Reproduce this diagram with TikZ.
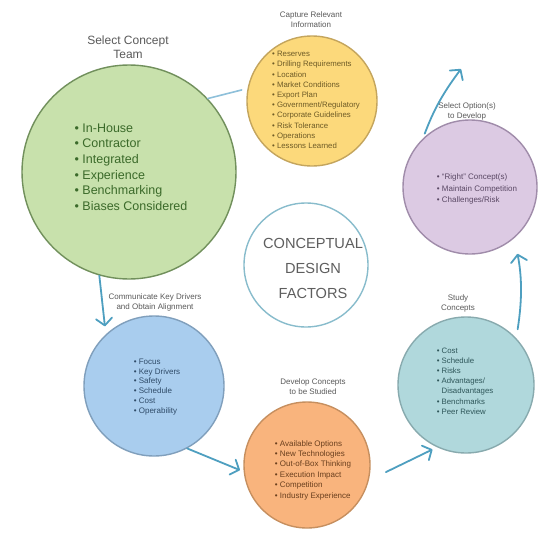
\documentclass[tikz,border=0pt]{standalone}
\usepackage{fontspec}
\setmainfont{Liberation Sans}
\usetikzlibrary{arrows.meta,calc}

\definecolor{greenfill}{HTML}{C8E1AC}
\definecolor{greenline}{HTML}{71905C}
\definecolor{greentext}{HTML}{3B6A2A}
\definecolor{yellowfill}{HTML}{FCD97B}
\definecolor{yellowline}{HTML}{C4A55D}
\definecolor{yellowtext}{HTML}{6E5B26}
\definecolor{purplefill}{HTML}{DCCAE3}
\definecolor{purpleline}{HTML}{A08CAA}
\definecolor{purpletext}{HTML}{5A4864}
\definecolor{bluefill}{HTML}{A9CDEE}
\definecolor{blueline}{HTML}{809FBC}
\definecolor{bluetext}{HTML}{2F4B68}
\definecolor{orangefill}{HTML}{F9B47D}
\definecolor{orangeline}{HTML}{C68F5F}
\definecolor{orangetext}{HTML}{6A3F1E}
\definecolor{tealfill}{HTML}{B0D8DC}
\definecolor{tealline}{HTML}{88AAAE}
\definecolor{tealtext}{HTML}{2E5659}
\definecolor{coreline}{HTML}{88BCCC}
\definecolor{coretext}{HTML}{5E5E5E}
\definecolor{labelgrey}{HTML}{5A5A5A}
\definecolor{flowc}{HTML}{4E9FC0}
\definecolor{linkc}{HTML}{8EC0DA}

\begin{document}
\begin{tikzpicture}[x=1pt,y=-1pt,
  bubble/.style={circle, inner sep=0pt, line width=1.4pt},
  items/.style={align=left, inner sep=0pt, font=\fontsize{7.8}{10.2}\selectfont},
  caption/.style={align=center, inner sep=0pt, text=labelgrey, font=\fontsize{8}{10}\selectfont},
  flow/.style={draw=flowc, line width=1.8pt, line cap=round, line join=round,
    -{Straight Barb[length=7pt,width=16pt,line cap=round,line join=round]}},
  link/.style={draw=linkc, line width=1.6pt, line cap=round}]

\useasboundingbox (0,0) rectangle (540,535);
\fill[white] (0,0) rectangle (540,535);

% the six factor circles and the core
\node[bubble, fill=greenfill,  draw=greenline,  minimum size=214pt] (green)  at (129,172) {};
\node[bubble, fill=yellowfill, draw=yellowline, minimum size=130pt] (yellow) at (312,101) {};
\node[bubble, fill=purplefill, draw=purpleline, minimum size=134pt] (purple) at (470,187) {};
\node[bubble, fill=bluefill,   draw=blueline,   minimum size=140pt] (blue)   at (154,386) {};
\node[bubble, fill=orangefill, draw=orangeline, minimum size=126pt] (orange) at (307,465) {};
\node[bubble, fill=tealfill,   draw=tealline,   minimum size=136pt] (teal)   at (466,385) {};
\node[bubble, fill=white, draw=coreline, minimum size=124pt] (core) at (306,265) {};

% core title
\node[align=center, inner sep=0pt, text=coretext,
      font=\fontsize{14.6}{25}\selectfont] (coretitle) at (313,268)
  {CONCEPTUAL\\DESIGN\\FACTORS};

% captions
\node[align=center, inner sep=0pt, text=labelgrey,
      font=\fontsize{12}{14.5}\selectfont] (greencap) at (128,47) {Select Concept\\Team};
\node[caption] (yellowcap) at (311,20)  {Capture Relevant\\Information};
\node[caption] (purplecap) at (467,111) {Select Option(s)\\to Develop};
\node[caption] (bluecap)   at (155,302) {Communicate Key Drivers\\and Obtain Alignment};
\node[caption] (orangecap) at (313,387) {Develop Concepts\\to be Studied};
\node[caption] (tealcap)   at (458,303) {Study\\Concepts};

% bullet lists
\node[align=left, inner sep=0pt, text=greentext,
      font=\fontsize{12.5}{15.6}\selectfont] (greenlist) at (131,167)
  {• In-House\\• Contractor\\• Integrated\\• Experience\\• Benchmarking\\• Biases Considered};
\node[items, text=yellowtext] (yellowlist) at (316,100)
  {• Reserves\\• Drilling Requirements\\• Location\\• Market Conditions\\• Export Plan\\
   • Government/Regulatory\\• Corporate Guidelines\\• Risk Tolerance\\• Operations\\• Lessons Learned};
\node[items, text=purpletext, font=\fontsize{8}{11.6}\selectfont] (purplelist) at (477,189)
  {• “Right” Concept(s)\\• Maintain Competition\\• Challenges/Risk};
\node[items, text=bluetext, font=\fontsize{8}{9.9}\selectfont] (bluelist) at (157,387)
  {• Focus\\• Key Drivers\\• Safety\\• Schedule\\• Cost\\• Operability};
\node[items, text=orangetext, font=\fontsize{8}{10.4}\selectfont] (orangelist) at (313,470)
  {• Available Options\\• New Technologies\\• Out-of-Box Thinking\\• Execution Impact\\• Competition\\• Industry Experience};
\node[items, text=tealtext] (teallist) at (465,381)
  {• Cost\\• Schedule\\• Risks\\• Advantages/\\\phantom{• }Disadvantages\\• Benchmarks\\• Peer Review};

% connectors
\coordinate (loopend) at (461,69);
\draw[link, shorten >=6pt] (green.43) -- (yellow.169);
\draw[flow, shorten >=8pt] (green.254) -- (blue.133);
\draw[flow, shorten >=4pt] (blue.-62) -- (orange.186);
\draw[flow, shorten <=19pt, shorten >=5pt] (orange.-14) -- (teal.245);
\draw[flow, shorten <=9pt, shorten >=16pt] (teal.43) to[bend right=10] (purple.-49);
\draw[flow, shorten <=5pt] (purple.134) to[bend left=8] (loopend);

\end{tikzpicture}
\end{document}
